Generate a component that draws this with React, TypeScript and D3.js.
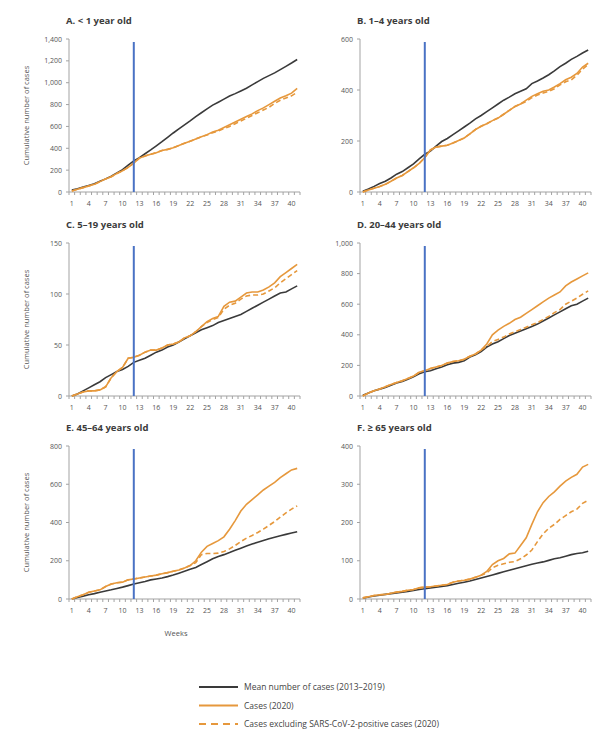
import * as d3 from "d3";
import { useRef, useEffect } from "react";

// weeks 1..41 of 2020
const weeks = d3.range(1, 42);
const weekLabels = [1, 4, 7, 10, 13, 16, 19, 22, 25, 28, 31, 34, 37, 40];

// A. < 1 year old
const meanA = [18, 30, 45, 60, 76, 98, 120, 145, 175, 205, 245, 285, 315, 350, 385, 422, 460, 500, 540, 578, 615, 650, 690, 725, 760, 795, 822, 850, 878, 900, 925, 950, 980, 1010, 1040, 1065, 1090, 1120, 1150, 1180, 1212];
const casesA = [10, 25, 40, 55, 70, 95, 120, 140, 170, 195, 225, 265, 310, 330, 345, 360, 380, 390, 405, 425, 445, 465, 485, 505, 525, 548, 565, 590, 615, 640, 665, 690, 715, 745, 770, 800, 830, 860, 880, 905, 948];
const exclA = [10, 25, 40, 55, 70, 95, 120, 140, 170, 195, 225, 265, 310, 330, 345, 360, 380, 390, 405, 425, 445, 465, 485, 505, 522, 542, 558, 580, 600, 625, 650, 675, 700, 725, 750, 775, 810, 840, 860, 880, 912];

// B. 1-4 years old
const meanB = [3, 12, 22, 33, 42, 55, 70, 80, 95, 110, 130, 148, 160, 180, 198, 210, 225, 240, 255, 270, 287, 300, 315, 330, 345, 360, 372, 385, 395, 405, 425, 435, 447, 460, 475, 492, 505, 520, 532, 545, 557];
const casesB = [0, 8, 15, 22, 30, 42, 55, 65, 80, 95, 112, 135, 165, 176, 180, 183, 192, 202, 212, 228, 245, 258, 268, 280, 290, 305, 320, 335, 345, 360, 375, 385, 395, 400, 412, 425, 440, 450, 465, 490, 505];
const exclB = [0, 8, 15, 22, 30, 42, 55, 65, 80, 95, 112, 135, 165, 176, 180, 183, 192, 202, 212, 228, 245, 258, 268, 280, 290, 305, 320, 335, 345, 355, 370, 380, 388, 395, 405, 420, 432, 440, 458, 482, 500];

// C. 5-19 years old
const meanC = [0, 2, 5, 8, 11, 14, 18, 21, 24, 26, 29, 33, 35, 37, 40, 43, 45, 48, 50, 53, 56, 59, 62, 65, 67, 69, 72, 74, 76, 78, 80, 83, 86, 89, 92, 95, 98, 101, 102, 105, 108];
const casesC = [0, 2, 4, 5, 5, 6, 9, 18, 24, 28, 37, 38, 40, 43, 45, 45, 47, 50, 51, 53, 57, 59, 63, 68, 73, 76, 78, 88, 92, 93, 97, 101, 102, 102, 104, 107, 111, 117, 121, 125, 129];
const exclC = [0, 2, 4, 5, 5, 6, 9, 18, 24, 28, 37, 38, 40, 43, 45, 45, 47, 50, 51, 53, 57, 59, 63, 68, 72, 75, 77, 85, 89, 91, 95, 98, 99, 99, 100, 103, 106, 111, 115, 119, 123];

// D. 20-44 years old
const meanD = [5, 20, 35, 45, 55, 70, 85, 95, 110, 125, 145, 158, 165, 178, 190, 205, 215, 220, 230, 255, 270, 290, 320, 340, 355, 375, 395, 410, 425, 440, 455, 470, 490, 510, 530, 550, 570, 590, 600, 620, 640];
const casesD = [0, 20, 35, 45, 60, 75, 88, 100, 115, 130, 155, 165, 180, 190, 200, 215, 225, 230, 240, 260, 275, 300, 340, 400, 430, 455, 475, 500, 515, 540, 565, 590, 615, 640, 660, 680, 720, 745, 765, 785, 805];
const exclD = [0, 20, 35, 45, 60, 75, 88, 100, 115, 130, 155, 165, 180, 190, 200, 215, 225, 230, 240, 260, 275, 300, 325, 355, 370, 385, 405, 420, 435, 450, 465, 480, 500, 520, 545, 565, 600, 620, 640, 665, 687];

// E. 45-64 years old
const meanE = [0, 8, 15, 22, 28, 35, 42, 48, 55, 62, 70, 78, 85, 92, 100, 105, 110, 117, 125, 135, 145, 155, 165, 180, 195, 210, 222, 232, 243, 255, 266, 277, 287, 297, 306, 315, 323, 331, 338, 345, 352];
const casesE = [0, 12, 22, 35, 42, 48, 65, 78, 85, 88, 100, 105, 110, 115, 120, 125, 132, 138, 145, 152, 162, 175, 200, 245, 275, 290, 305, 325, 365, 410, 460, 495, 520, 545, 570, 590, 610, 635, 655, 675, 683];
const exclE = [0, 12, 22, 35, 42, 48, 65, 78, 85, 88, 100, 105, 110, 115, 120, 125, 132, 138, 145, 152, 162, 175, 190, 232, 238, 238, 240, 248, 262, 280, 300, 318, 332, 348, 365, 385, 405, 428, 450, 470, 487];

// F. >= 65 years old
const meanF = [2, 5, 8, 10, 12, 14, 16, 18, 20, 22, 25, 27, 29, 31, 33, 35, 38, 41, 44, 47, 51, 55, 59, 63, 67, 71, 75, 79, 83, 87, 91, 94, 97, 101, 105, 108, 112, 116, 119, 121, 125];
const casesF = [3, 6, 9, 11, 12, 15, 18, 20, 23, 25, 29, 31, 32, 34, 36, 38, 44, 47, 49, 52, 57, 62, 72, 90, 100, 106, 118, 120, 140, 160, 195, 228, 252, 268, 280, 295, 308, 318, 326, 345, 352];
const exclF = [3, 6, 9, 11, 12, 15, 18, 20, 23, 25, 29, 31, 32, 34, 36, 38, 44, 47, 49, 52, 57, 62, 68, 82, 88, 92, 96, 98, 105, 115, 128, 150, 170, 185, 195, 208, 218, 228, 235, 250, 258];

const titles = ["A. < 1 year old", "B. 1–4 years old", "C. 5–19 years old", "D. 20–44 years old", "E. 45–64 years old", "F. ≥ 65 years old"];
const yMax = [1400, 600, 150, 1000, 800, 400];
const yStep = [200, 200, 50, 200, 200, 100];
const legendLabels = ["Mean number of cases (2013–2019)", "Cases (2020)", "Cases excluding SARS-CoV-2-positive cases (2020)"];

const interventionWeek = 12;

const BLACK = "#3a3a3a";
const ORANGE = "#e6983c";
const BLUE = "#4a72c4";
const AXIS = "#a3a3a3";
const FONT = "'Open Sans', 'Noto Sans', sans-serif";

function App() {
  const svgRef = useRef(null);

  useEffect(() => {
    const WIDTH = 616;
    const HEIGHT = 736;
    const PW = 231;
    const PH = 153;
    const colX = [69, 360];
    const rowY = [39, 243, 446];

    const series = [
      [meanA, casesA, exclA],
      [meanB, casesB, exclB],
      [meanC, casesC, exclC],
      [meanD, casesD, exclD],
      [meanE, casesE, exclE],
      [meanF, casesF, exclF],
    ];

    const svg = d3.select(svgRef.current)
      .attr("width", WIDTH)
      .attr("height", HEIGHT)
      .style("font-family", FONT);
    svg.selectAll("*").remove();

    const x = d3.scaleLinear().domain([0.5, 41.5]).range([0, PW]);

    series.forEach((s, i) => {
      const col = i % 2;
      const row = Math.floor(i / 2);
      const g = svg.append("g").attr("transform", `translate(${colX[col]}, ${rowY[row]})`);
      const y = d3.scaleLinear().domain([0, yMax[i]]).range([PH, 0]);

      g.append("text")
        .attr("x", -3)
        .attr("y", -15)
        .attr("font-size", 9.5)
        .attr("font-weight", "bold")
        .attr("fill", "#3c3c3c")
        .text(titles[i]);

      // y axis
      const yTicks = d3.range(0, yMax[i] + 1, yStep[i]);
      g.append("line")
        .attr("x1", 0).attr("x2", 0).attr("y1", 0).attr("y2", PH)
        .attr("stroke", AXIS).attr("stroke-width", 1);
      g.selectAll(".ytick").data(yTicks).join("line")
        .attr("x1", -3).attr("x2", 0)
        .attr("y1", d => y(d)).attr("y2", d => y(d))
        .attr("stroke", AXIS);
      g.selectAll(".ylab").data(yTicks).join("text")
        .attr("x", -7)
        .attr("y", d => y(d) + 2.5)
        .attr("text-anchor", "end")
        .attr("font-size", 7)
        .attr("fill", "#555")
        .text(d => d3.format(",")(d));

      // x axis
      g.append("line")
        .attr("x1", 0).attr("x2", PW).attr("y1", PH).attr("y2", PH)
        .attr("stroke", AXIS).attr("stroke-width", 1);
      g.selectAll(".xtick").data(d3.range(0.5, 42, 1)).join("line")
        .attr("x1", d => x(d)).attr("x2", d => x(d))
        .attr("y1", PH).attr("y2", PH + 3)
        .attr("stroke", AXIS);
      g.selectAll(".xlab").data(weekLabels).join("text")
        .attr("x", d => x(d))
        .attr("y", PH + 14)
        .attr("text-anchor", "middle")
        .attr("font-size", 7)
        .attr("fill", "#555")
        .text(d => d);

      if (col === 0) {
        g.append("text")
          .attr("transform", `translate(${29 - colX[0]}, ${PH / 2}) rotate(-90)`)
          .attr("text-anchor", "middle")
          .attr("font-size", 7.5)
          .attr("fill", "#555")
          .text("Cumulative number of cases");
      }
      if (i === 4) {
        g.append("text")
          .attr("x", x(19.5))
          .attr("y", PH + 37)
          .attr("text-anchor", "middle")
          .attr("font-size", 7.5)
          .attr("fill", "#555")
          .text("Weeks");
      }

      const line = d3.line().x((d, j) => x(weeks[j])).y(d => y(d));

      g.append("path").attr("d", line(s[0]))
        .attr("fill", "none").attr("stroke", BLACK).attr("stroke-width", 1.6);
      g.append("path").attr("d", line(s[2]))
        .attr("fill", "none").attr("stroke", ORANGE).attr("stroke-width", 1.6)
        .attr("stroke-dasharray", "5,3");
      g.append("path").attr("d", line(s[1]))
        .attr("fill", "none").attr("stroke", ORANGE).attr("stroke-width", 1.6);

      // intervention line
      g.append("line")
        .attr("x1", x(interventionWeek)).attr("x2", x(interventionWeek))
        .attr("y1", 3).attr("y2", PH)
        .attr("stroke", BLUE).attr("stroke-width", 2);
    });

    // legend
    const legend = svg.append("g").attr("transform", "translate(199, 687)");
    const styles = [
      { stroke: BLACK, dash: null },
      { stroke: ORANGE, dash: null },
      { stroke: ORANGE, dash: "7,5" },
    ];
    legendLabels.forEach((label, i) => {
      const row = legend.append("g").attr("transform", `translate(0, ${i * 18.5})`);
      row.append("line")
        .attr("x1", 0).attr("x2", 39).attr("y1", 0).attr("y2", 0)
        .attr("stroke", styles[i].stroke).attr("stroke-width", 2.2)
        .attr("stroke-dasharray", styles[i].dash);
      row.append("text")
        .attr("x", 45).attr("y", 3)
        .attr("font-size", 8.5)
        .attr("fill", "#444")
        .text(label);
    });
  }, []);

  return (
    <div>
      <svg ref={svgRef} style={{ position: "absolute", left: 0, top: 0, display: "block" }} />
    </div>
  );
}

export default App;
